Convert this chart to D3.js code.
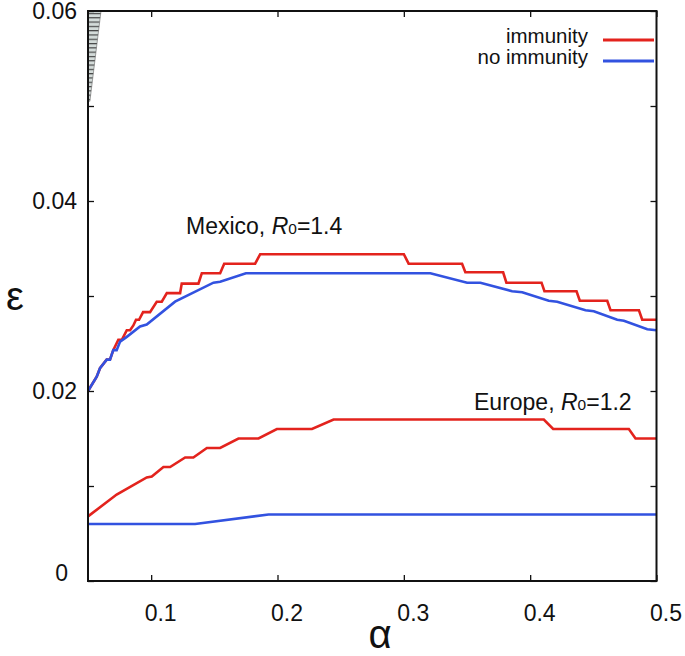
<!DOCTYPE html>
<html>
<head>
<meta charset="utf-8">
<script src="https://cdn.jsdelivr.net/npm/d3@7"></script>
<style>
  body { margin: 0; background: #fff; }
  svg { display: block; font-family: "Liberation Sans", Arial, Helvetica, sans-serif; }
</style>
</head>
<body>
<svg id="chart" width="685" height="656"></svg>
<script>
// ---- data ----
const xTicks = [0.1, 0.2, 0.3, 0.4, 0.5];
const yTicks = [0, 0.01, 0.02, 0.03, 0.04, 0.05, 0.06];
const yTickLabels = [0, 0.02, 0.04, 0.06];

const mexImmAlpha = [0.05,0.0569,0.0595,0.0648,0.0674,0.070,0.074,0.0769,0.0807,0.0833,0.0859,0.088,0.0904,0.0936,0.0991,0.1044,0.1084,0.1124,0.1229,0.1242,0.1374,0.1401,0.1546,0.1578,0.1823,0.1863,0.300,0.3038,0.3461,0.3487,0.3786,0.3812,0.409,0.4113,0.4367,0.4393,0.461,0.4636,0.4861,0.4887,0.5];
const mexImmEps   = [0.020,0.0215,0.0224,0.0233,0.0233,0.0243,0.0254,0.0254,0.0264,0.0264,0.0269,0.0275,0.0275,0.0283,0.0283,0.0294,0.0294,0.0303,0.0303,0.0313,0.0313,0.0324,0.0324,0.0334,0.0334,0.0344,0.0344,0.0334,0.0334,0.0325,0.0325,0.0314,0.0314,0.0305,0.0305,0.0295,0.0295,0.0285,0.0285,0.0275,0.0275];

const mexNoAlpha = [0.05,0.0569,0.0595,0.0648,0.0674,0.070,0.0727,0.0754,0.0807,0.0912,0.0965,0.1189,0.1493,0.1546,0.175,0.321,0.3501,0.3606,0.3857,0.3937,0.4147,0.4214,0.4438,0.4504,0.4689,0.4742,0.4927,0.5];
const mexNoEps   = [0.020,0.0215,0.0224,0.0233,0.0233,0.0243,0.0243,0.0252,0.0257,0.0268,0.0270,0.0294,0.0314,0.0315,0.0324,0.0324,0.0314,0.0314,0.0305,0.0304,0.0295,0.0294,0.0285,0.0284,0.0275,0.0274,0.0265,0.0264];

const eurImmAlpha = [0.05,0.0727,0.0965,0.1005,0.1097,0.115,0.1269,0.1334,0.1441,0.1546,0.1691,0.185,0.1995,0.2273,0.2444,0.4108,0.4182,0.4781,0.4834,0.5];
const eurImmEps   = [0.0068,0.0091,0.0109,0.011,0.012,0.012,0.013,0.013,0.014,0.014,0.015,0.015,0.016,0.016,0.017,0.017,0.016,0.016,0.015,0.015];

const eurNoAlpha = [0.05,0.1348,0.1929,0.5];
const eurNoEps   = [0.006,0.006,0.007,0.007];

const hatchAlpha = [0.05,0.0603,0.0515,0.05];
const hatchEps   = [0.06,0.06,0.0505,0.0505];

const seriesNames = ["immunity", "no immunity"];
const colors = {immunity: "#e3231d", noimmunity: "#3252e0"};

// ---- layout ----
const svg = d3.select("#chart");
const L = 88, R = 656.5, T = 11, B = 581;
const x = d3.scaleLinear().domain([0.05, 0.5]).range([L, R]);
const y = d3.scaleLinear().domain([0, 0.06]).range([B, T]);

svg.append("rect").attr("width", 685).attr("height", 656).attr("fill", "#fff");

// hatched region
const defs = svg.append("defs");
const pat = defs.append("pattern").attr("id", "hatch").attr("patternUnits", "userSpaceOnUse")
  .attr("width", 20).attr("height", 4.3);
pat.append("rect").attr("width", 20).attr("height", 4.3).attr("fill", "#d3dbd9");
pat.append("line").attr("x1", 0).attr("x2", 20).attr("y1", 0.6).attr("y2", 0.6)
  .attr("stroke", "#3a3a3a").attr("stroke-width", 1.1);
const hatchPts = hatchAlpha.map((a, i) => [x(a), y(hatchEps[i])]);
svg.append("path").attr("d", d3.line()(hatchPts) + "Z")
  .attr("fill", "url(#hatch)").attr("stroke", "#666").attr("stroke-width", 0.6);

// lines
const line = d3.line().x(d => x(d[0])).y(d => y(d[1]));
function drawSeries(al, ep, color) {
  svg.append("path").datum(al.map((a, i) => [a, ep[i]]))
    .attr("d", line).attr("fill", "none").attr("stroke", color)
    .attr("stroke-width", 2.6).attr("stroke-linejoin", "miter");
}
drawSeries(eurNoAlpha, eurNoEps, colors.noimmunity);
drawSeries(eurImmAlpha, eurImmEps, colors.immunity);
drawSeries(mexImmAlpha, mexImmEps, colors.immunity);
drawSeries(mexNoAlpha, mexNoEps, colors.noimmunity);

// axes
const tickFont = 23;
const gB = svg.append("g").attr("transform", `translate(0,${B})`)
  .call(d3.axisBottom(x).tickValues(xTicks).tickSizeInner(-6).tickSizeOuter(0).tickPadding(24)
    .tickFormat(d3.format(".1f")));
gB.selectAll("text").attr("font-size", tickFont).attr("dx", 9).attr("fill", "#111")
  .attr("font-family", "'Liberation Sans', Arial, sans-serif");
const gT = svg.append("g").attr("transform", `translate(0,${T})`)
  .call(d3.axisTop(x).tickValues(xTicks).tickSizeInner(-6).tickSizeOuter(0).tickFormat(""));
const gL = svg.append("g").attr("transform", `translate(${L},0)`)
  .call(d3.axisLeft(y).tickValues(yTicks).tickSizeInner(-6).tickSizeOuter(0).tickPadding(11)
    .tickFormat(d => yTickLabels.some(v => Math.abs(v - d) < 1e-9) ? (d === 0 ? "0" : d3.format(".2f")(d)) : ""));
gL.selectAll("text").attr("font-size", tickFont).attr("fill", "#111")
  .attr("font-family", "'Liberation Sans', Arial, sans-serif");
gL.selectAll(".tick").filter(d => d === 0).select("text").attr("dx", -9).attr("dy", "-0.02em");
const gR = svg.append("g").attr("transform", `translate(${R},0)`)
  .call(d3.axisRight(y).tickValues(yTicks).tickSizeInner(-6).tickSizeOuter(0).tickFormat(""));
[gB, gT, gL, gR].forEach(g => {
  g.select(".domain").remove();
  g.selectAll(".tick line").attr("stroke", "#111").attr("stroke-width", 1.3);
});
svg.append("rect").attr("x", L).attr("y", T).attr("width", R - L).attr("height", B - T)
  .attr("fill", "none").attr("stroke", "#111").attr("stroke-width", 2);

// axis titles
svg.append("text").attr("x", 380).attr("y", 648).attr("text-anchor", "middle")
  .attr("font-size", 40).attr("fill", "#111").text("α");
svg.append("text").attr("x", 15).attr("y", 310).attr("text-anchor", "middle")
  .attr("font-size", 40).attr("fill", "#111").text("ε");

// legend
const legY = [43, 64];
const legColors = [colors.immunity, colors.noimmunity];
seriesNames.forEach((n, i) => {
  svg.append("text").attr("x", 588).attr("y", legY[i]).attr("text-anchor", "end")
    .attr("font-size", 20.5).attr("fill", "#111").text(n);
  svg.append("line").attr("x1", 603).attr("x2", 654).attr("y1", legY[i] - 3).attr("y2", legY[i] - 3)
    .attr("stroke", legColors[i]).attr("stroke-width", 3);
});

// annotations
function annot(xp, yp, place, r0) {
  const t = svg.append("text").attr("x", xp).attr("y", yp).attr("font-size", 23).attr("fill", "#111");
  t.append("tspan").text(place + ", ");
  t.append("tspan").attr("font-style", "italic").text("R");
  t.append("tspan").attr("font-size", 15.5).text("0");
  t.append("tspan").text("=" + r0);
}
annot(186, 234, "Mexico", "1.4");
annot(474, 410, "Europe", "1.2");
</script>
</body>
</html>
